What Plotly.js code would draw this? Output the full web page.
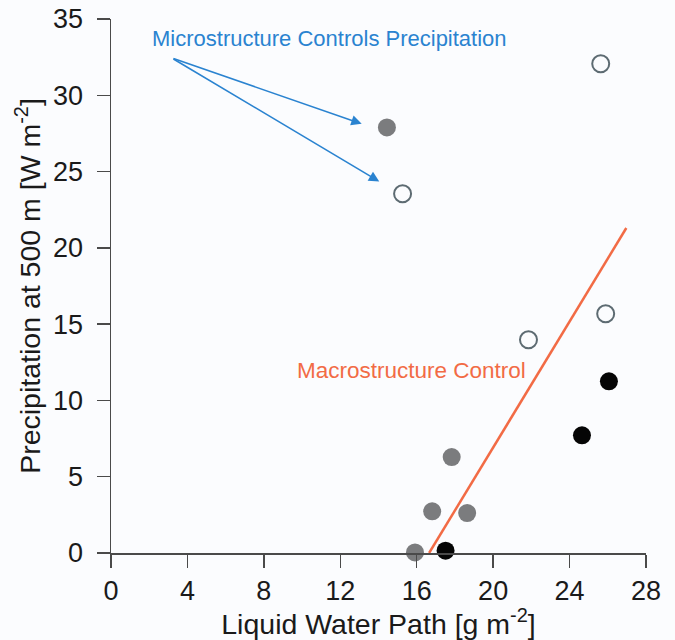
<!DOCTYPE html>
<html>
<head>
<meta charset="utf-8">
<script src="https://cdn.plot.ly/plotly-3.0.1.min.js"></script>
<style>html,body{margin:0;padding:0;background:#fbfcfe;} #chart{width:675px;height:640px;}</style>
</head>
<body>
<div id="chart"></div>
<script>
// Gray filled points
const grayX = [14.44, 17.83, 16.81, 18.64, 15.91];
const grayY = [27.89, 6.29, 2.73, 2.62, 0.04];
// Open points
const openX = [15.26, 25.63, 21.85, 25.89];
const openY = [23.55, 32.07, 13.98, 15.68];
// Black filled points
const blackX = [17.51, 24.65, 26.06];
const blackY = [0.15, 7.71, 11.25];
// Macrostructure control line
const lineX = [16.65, 26.97];
const lineY = [0, 21.3];
// Annotation arrow: start and tips
const arrowStart = [3.19, 32.44];
const arrowTipsX = [13.12, 14.04];
const arrowTipsY = [28.13, 24.35];

const xTicks = [0, 4, 8, 12, 16, 20, 24, 28];
const yTicks = [0, 5, 10, 15, 20, 25, 30, 35];

const FONT = 'Liberation Sans, Arial, Helvetica, sans-serif';
const blue = '#2a83d0';
const orange = '#f26b45';

const traces = [
  {x: lineX, y: lineY, mode: 'lines', type: 'scatter', line: {color: orange, width: 2.5}, hoverinfo: 'skip', cliponaxis: false},
  {x: grayX, y: grayY, mode: 'markers', type: 'scatter', marker: {size: 18, color: '#7b7c7e', line: {width: 0}}, cliponaxis: false},
  {x: openX, y: openY, mode: 'markers', type: 'scatter', marker: {size: 17, color: 'rgba(255,255,255,0)', line: {width: 2, color: '#5d6b72'}}, cliponaxis: false},
  {x: blackX, y: blackY, mode: 'markers', type: 'scatter', marker: {size: 18, color: '#050505', line: {width: 0}}, cliponaxis: false}
];

const annotations = [
  {x: 11.46, y: 33.73, xref: 'x', yref: 'y', text: 'Microstructure Controls Precipitation', showarrow: false,
   font: {family: FONT, size: 22, color: blue}},
  {x: 15.72, y: 11.95, xref: 'x', yref: 'y', text: 'Macrostructure Control', showarrow: false,
   font: {family: FONT, size: 22.5, color: orange}}
];
for (let i = 0; i < arrowTipsX.length; i++) {
  annotations.push({x: arrowTipsX[i], y: arrowTipsY[i], xref: 'x', yref: 'y', axref: 'x', ayref: 'y',
    ax: arrowStart[0], ay: arrowStart[1], text: '', showarrow: true, arrowhead: 2, arrowsize: 1.3,
    arrowwidth: 1.6, arrowcolor: blue, standoff: 0, startstandoff: 0});
}

const layout = {
  width: 675, height: 640,
  margin: {l: 111, r: 29, t: 19, b: 87},
  paper_bgcolor: '#fbfcfe', plot_bgcolor: '#fbfcfe',
  showlegend: false,
  font: {family: FONT, color: '#1a1a1a'},
  xaxis: {
    range: [0, 28], tickvals: xTicks, ticktext: xTicks.map(String),
    showgrid: false, zeroline: false, showline: true, linecolor: '#4a4a4a', linewidth: 1.5,
    ticks: 'outside', ticklen: 13, tickwidth: 1.5, tickcolor: '#4a4a4a',
    tickfont: {family: FONT, size: 27, color: '#1a1a1a'},
    ticklabelstandoff: 0,
    title: {text: 'Liquid Water Path [g m<sup>-2</sup>]', font: {family: FONT, size: 28.5, color: '#1a1a1a'}, standoff: 4},
    fixedrange: true
  },
  yaxis: {
    range: [0, 35], tickvals: yTicks, ticktext: yTicks.map(String),
    showgrid: false, zeroline: false, showline: true, linecolor: '#4a4a4a', linewidth: 1.5,
    ticks: 'outside', ticklen: 13, tickwidth: 1.5, tickcolor: '#4a4a4a',
    tickfont: {family: FONT, size: 27, color: '#1a1a1a'},
    ticklabelstandoff: 8,
    title: {text: 'Precipitation at 500 m [W m<sup>-2</sup>]', font: {family: FONT, size: 28.5, color: '#1a1a1a'}, standoff: 4},
    fixedrange: true
  },
  annotations: annotations
};

Plotly.newPlot('chart', traces, layout, {displayModeBar: false, staticPlot: true});
</script>
</body>
</html>
